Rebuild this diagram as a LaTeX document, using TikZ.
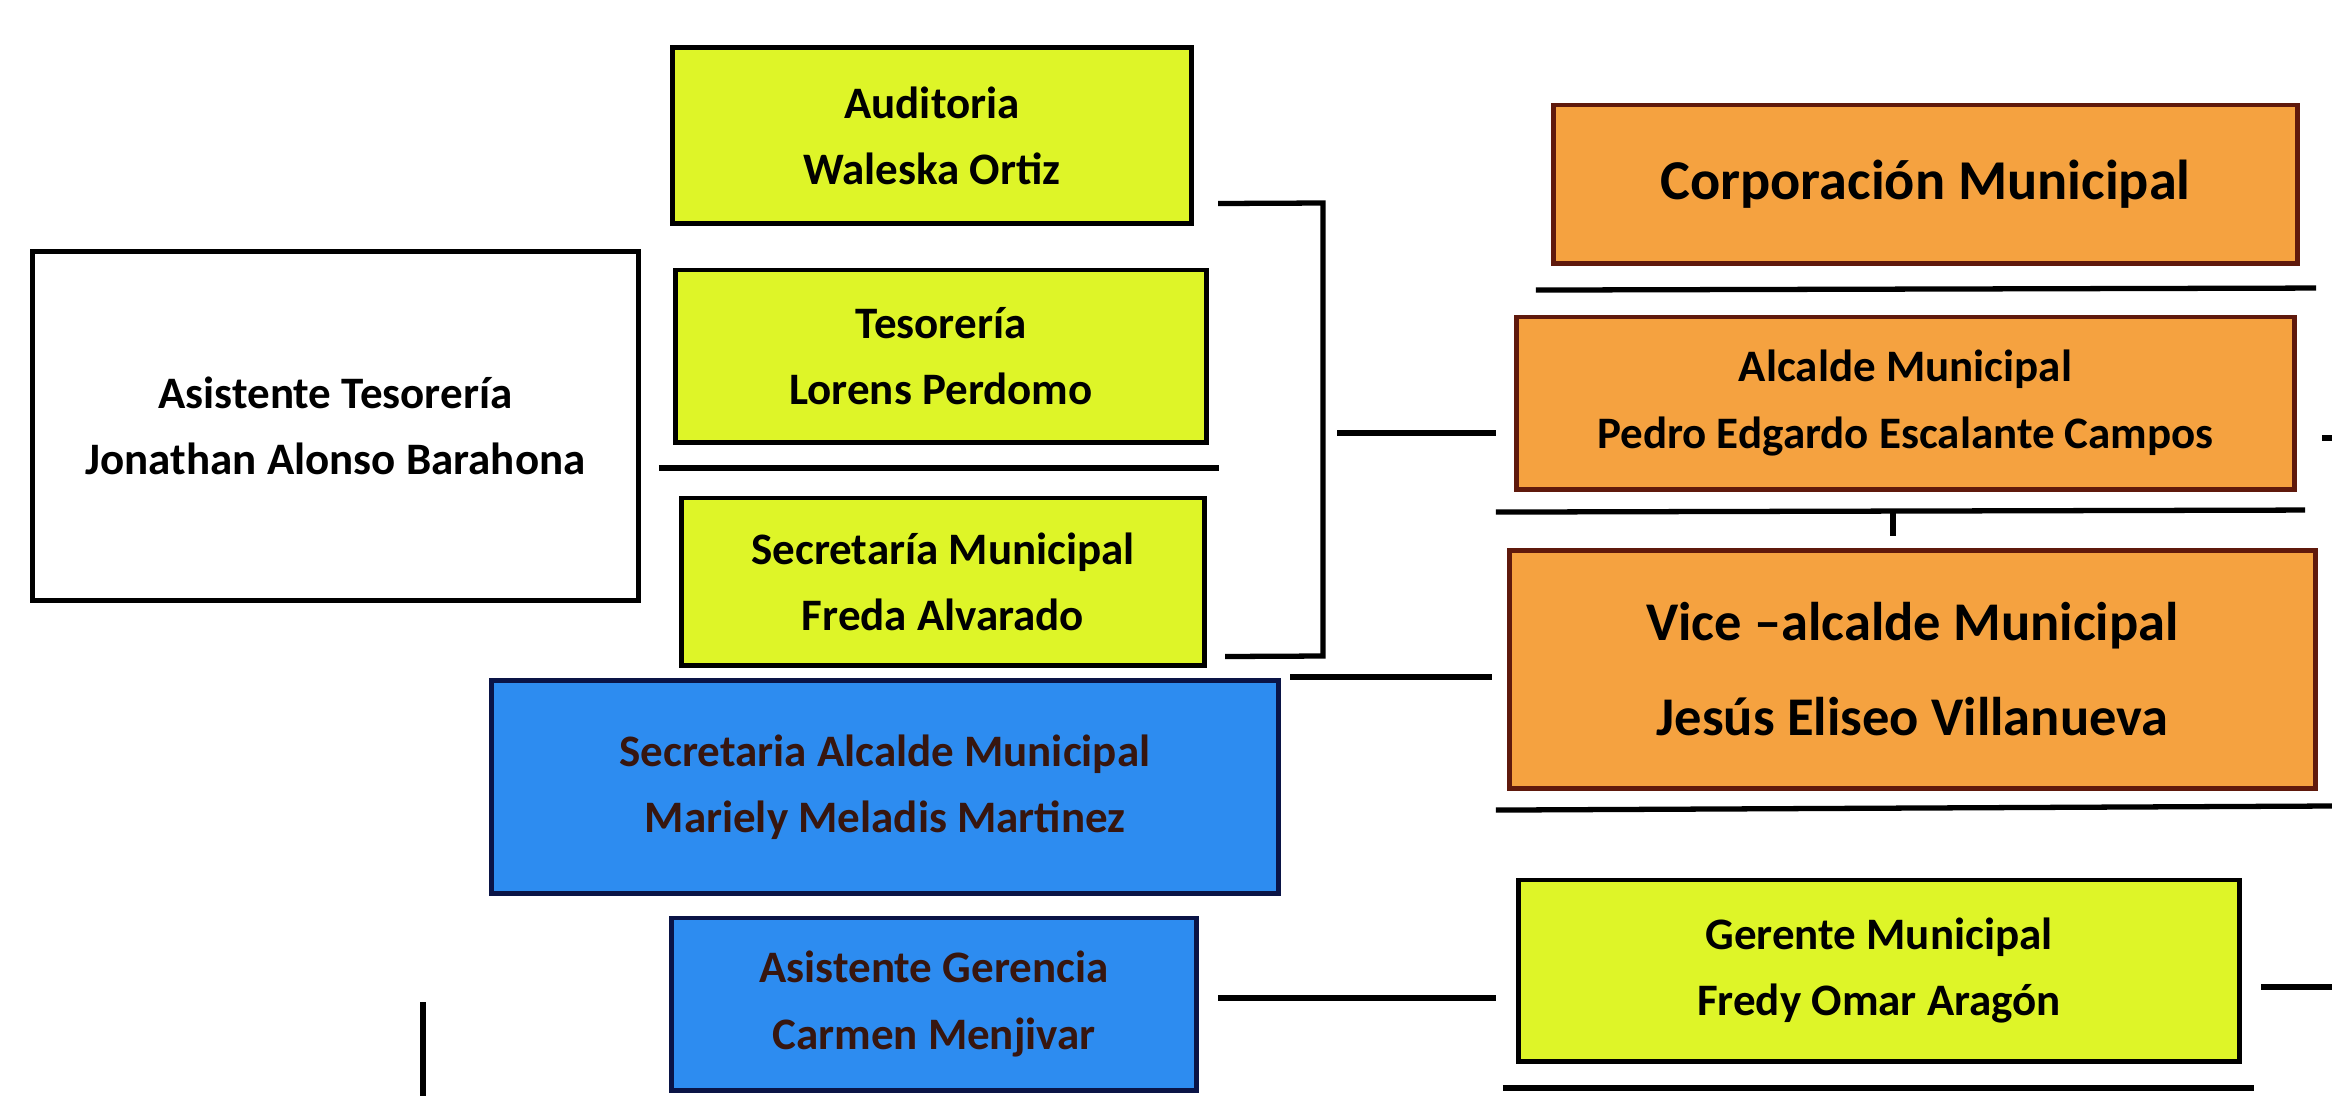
\documentclass[tikz,border=0pt]{standalone}
\usepackage{fontspec}
\setmainfont{Carlito}
\usetikzlibrary{calc}
\definecolor{limefill}{RGB}{222,245,40}
\definecolor{orangefill}{RGB}{245,162,64}
\definecolor{orangeline}{RGB}{95,25,12}
\definecolor{bluefill}{RGB}{45,140,240}
\definecolor{blueline}{RGB}{10,20,70}
\definecolor{bluetext}{RGB}{55,22,15}
\tikzset{
  box/.style={rectangle, draw=black, line width=1.4pt, align=center, inner sep=0pt, outer sep=0pt,
    font=\fontsize{12.8pt}{18.8pt}\selectfont\bfseries},
  limebox/.style={box, fill=limefill},
  orangebox/.style={box, fill=orangefill, draw=orangeline},
  bluebox/.style={box, fill=bluefill, draw=blueline, text=bluetext},
  whitebox/.style={box, fill=white},
  conn/.style={line width=1.5pt, black},
}
\begin{document}
\begin{tikzpicture}[x=0.01cm, y=-0.01cm]
\useasboundingbox (0,0) rectangle (2332,1096);
\fill[white] (0,0) rectangle (2332,1096);

% boxes
\node[limebox, minimum width=5.18cm, minimum height=1.75cm] (aud) at (932,135.5) {Auditoria\\Waleska Ortiz};
\node[limebox, minimum width=5.30cm, minimum height=1.72cm] (tes) at (941,356) {Tesorería\\Lorens Perdomo};
\node[limebox, minimum width=5.22cm, minimum height=1.67cm] (secm) at (943,581.5) {Secretaría Municipal\\Freda Alvarado};
\node[whitebox, minimum width=6.05cm, minimum height=3.48cm] (asist) at (335.5,426) {Asistente Tesorería\\Jonathan Alonso Barahona};
\node[orangebox, minimum width=7.43cm, minimum height=1.58cm, font=\fontsize{16pt}{20pt}\selectfont\bfseries] (corp) at (1925.5,184) {Corporación Municipal};
\node[orangebox, minimum width=7.77cm, minimum height=1.72cm] (alc) at (1905.5,403) {Alcalde Municipal\\Pedro Edgardo Escalante Campos};
\node[orangebox, minimum width=8.05cm, minimum height=2.37cm, font=\fontsize{15.5pt}{27pt}\selectfont\bfseries] (vice) at (1912.5,669.5) {Vice –alcalde Municipal\\Jesús Eliseo Villanueva};
\node[bluebox, minimum width=7.86cm, minimum height=2.12cm] (secalc) at (885,787) {Secretaria Alcalde Municipal\\Mariely Meladis Martinez};
\node[bluebox, minimum width=5.24cm, minimum height=1.72cm] (asger) at (934,1004) {Asistente Gerencia\\Carmen Menjivar};
\node[limebox, minimum width=7.20cm, minimum height=1.81cm] (ger) at (1879,970.5) {Gerente Municipal\\Fredy Omar Aragón};

% bracket joining Auditoria, Tesorería and Secretaría Municipal
\coordinate (brtop) at ($(aud.east)+(27,68)$);
\coordinate (brbot) at ($(secm.east)+(21,75)$);
\coordinate (brmid) at (1337,433);
\draw[conn] (brtop) -- (1323,203) -- (1323,656) -- (brbot);
\draw[conn] (brmid) -- ($(alc.west |- brmid)+(-21,0)$);

% line under Tesorería
\coordinate (tesL) at ($(tes.south west)+(-17,26)$);
\coordinate (tesR) at ($(tes.south east)+(13,26)$);
\draw[conn] (tesL) -- (tesR);

% lines under the orange boxes
\coordinate (corpL) at ($(corp.south west)+(-18,27)$);
\coordinate (corpR) at ($(corp.south east)+(19,25)$);
\draw[conn] (corpL) -- (corpR);
\coordinate (alcL) at ($(alc.south west)+(-21,23)$);
\coordinate (alcR) at ($(alc.south east)+(11,21)$);
\draw[conn] (alcL) -- (alcR);
\coordinate (alcT) at (1893,511);
\draw[conn] (alcT) -- ($(alcT)+(0,25)$);
\coordinate (viceL) at ($(vice.south west)+(-14,22)$);
\coordinate (viceR) at (2332,806);
\draw[conn] (viceL) -- (viceR);
\coordinate (gerL) at ($(ger.south west)+(-16,27)$);
\coordinate (gerR) at ($(ger.south east)+(15,27)$);
\draw[conn] (gerL) -- (gerR);

% connectors to the right-hand boxes
\coordinate (secalcC) at ($(secalc.north east)+(12,-4)$);
\draw[conn] (secalcC) -- ($(vice.west |- secalcC)+(-18,0)$);
\coordinate (asgerC) at ($(asger.east)+(22,-6)$);
\draw[conn] (asgerC) -- ($(ger.west |- asgerC)+(-23,0)$);
\coordinate (gerC) at ($(ger.east)+(22,16.5)$);
\draw[conn] (gerC) -- (2332,987);
\coordinate (alcC) at ($(alc.east)+(28,35)$);
\draw[conn] (alcC) -- (2332,438);

% vertical line at lower left
\coordinate (vl) at (423,1002);
\draw[conn] (vl) -- (423,1096);
\end{tikzpicture}
\end{document}
